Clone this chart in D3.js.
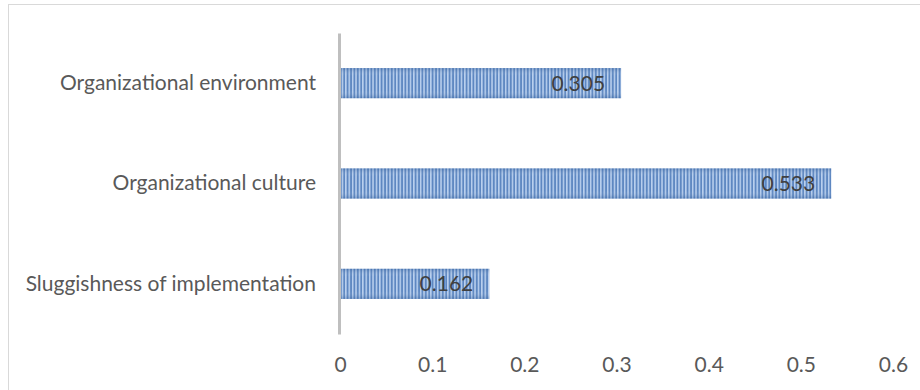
<!DOCTYPE html>
<html>
<head>
<meta charset="utf-8">
<script src="https://cdn.jsdelivr.net/npm/d3@7"></script>
<style>
  html, body { margin: 0; padding: 0; background: #fff; }
  svg { display: block; }
</style>
</head>
<body>
<svg id="chart" width="920" height="390"></svg>
<script>
const categories = ["Organizational environment", "Organizational culture", "Sluggishness of implementation"];
const values = [0.305, 0.533, 0.162];
const tickValues = [0, 0.1, 0.2, 0.3, 0.4, 0.5, 0.6];
const tickLabels = ["0", "0.1", "0.2", "0.3", "0.4", "0.5", "0.6"];

const svg = d3.select("#chart");
const FONT = "Lato, 'Open Sans', sans-serif";
const FS = 21;

// chart border
svg.append("rect").attr("x", 8.5).attr("y", 4.5).attr("width", 940).attr("height", 420)
  .attr("fill", "#fff").attr("stroke", "#d9d9d9").attr("stroke-width", 1);

const defs = svg.append("defs");
const pat = defs.append("pattern").attr("id", "stripes")
  .attr("patternUnits", "userSpaceOnUse").attr("width", 3.4).attr("height", 10);
pat.append("rect").attr("width", 3.4).attr("height", 10).attr("fill", "#5581be");
pat.append("rect").attr("x", 1.7).attr("width", 1.5).attr("height", 10).attr("fill", "#b8cfee");

const grad = defs.append("linearGradient").attr("id", "shade")
  .attr("x1", 0).attr("y1", 0).attr("x2", 0).attr("y2", 1);
grad.append("stop").attr("offset", "0%").attr("stop-color", "#2f5a96").attr("stop-opacity", 0.35);
grad.append("stop").attr("offset", "25%").attr("stop-color", "#ffffff").attr("stop-opacity", 0.05);
grad.append("stop").attr("offset", "75%").attr("stop-color", "#ffffff").attr("stop-opacity", 0.05);
grad.append("stop").attr("offset", "100%").attr("stop-color", "#2f5a96").attr("stop-opacity", 0.35);

const x = d3.scaleLinear().domain([0, 0.6]).range([340, 893]);
const y = d3.scaleBand().domain(categories).range([33, 334]).paddingInner(0.7).paddingOuter(0.35);

const data = categories.map((c, i) => ({ c, v: values[i] }));

// bars
svg.append("g").selectAll("rect").data(data).join("rect")
  .attr("x", x(0) + 1).attr("y", d => y(d.c))
  .attr("width", d => x(d.v) - x(0) - 1).attr("height", y.bandwidth())
  .attr("fill", "url(#stripes)");
svg.append("g").selectAll("rect").data(data).join("rect")
  .attr("x", x(0) + 1).attr("y", d => y(d.c))
  .attr("width", d => x(d.v) - x(0) - 1).attr("height", y.bandwidth())
  .attr("fill", "url(#shade)");

// data labels
svg.append("g").selectAll("text").data(data).join("text")
  .attr("x", d => x(d.v) - 16).attr("y", d => y(d.c) + y.bandwidth() / 2)
  .attr("dy", "0.36em").attr("text-anchor", "end")
  .attr("font-family", FONT).attr("font-size", FS).attr("fill", "#404040")
  .text(d => d.v.toFixed(3));

// vertical category axis
const yAxis = d3.axisLeft(y).tickSize(0).tickPadding(23);
const gy = svg.append("g").attr("transform", `translate(${x(0) - 1},0)`).call(yAxis);
gy.select(".domain").attr("stroke", "#bfbfbf").attr("stroke-width", 3);
gy.selectAll("text").attr("font-family", FONT).attr("font-size", FS).attr("fill", "#595959");

// horizontal value axis (labels only)
const xAxis = d3.axisBottom(x).tickValues(tickValues).tickFormat((d, i) => tickLabels[i]).tickSize(0).tickPadding(0);
const gx = svg.append("g").attr("transform", "translate(0,357)").call(xAxis);
gx.select(".domain").remove();
gx.selectAll("text").attr("font-family", FONT).attr("font-size", FS).attr("fill", "#595959");
</script>
</body>
</html>
